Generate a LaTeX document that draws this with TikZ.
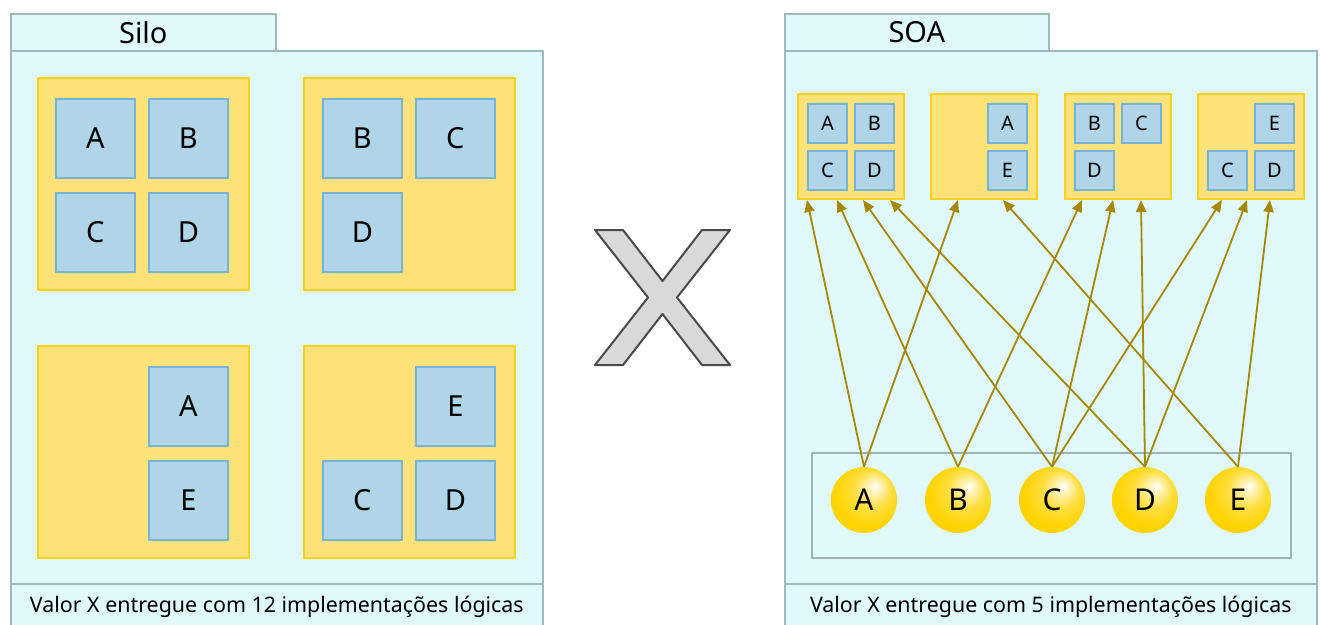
\documentclass[tikz,border=0pt]{standalone}
\usepackage{fontspec}
\setmainfont{Noto Sans}
\usetikzlibrary{arrows.meta}
\definecolor{pfill}{HTML}{DFF9FD}
\definecolor{pborder}{HTML}{9DB9BD}
\definecolor{yfill}{HTML}{FFE27A}
\definecolor{ygold}{HTML}{FFD11A}
\definecolor{bfill}{HTML}{B0D4E8}
\definecolor{bborder}{HTML}{7AB3D2}
\definecolor{arrc}{HTML}{A68800}
\definecolor{grect}{HTML}{9FB3B7}
\definecolor{ballgold}{HTML}{FFD400}
\definecolor{ballmid}{HTML}{FFE56A}
\definecolor{xfill}{HTML}{D9D9D9}
\definecolor{xdraw}{HTML}{4A4A4A}
\pgfdeclareradialshading{goldball}{\pgfpoint{9bp}{11bp}}{color(0bp)=(white); color(4bp)=(white!60!ballmid); color(14bp)=(ballmid!60!ballgold); color(26bp)=(ballgold); color(50bp)=(ballgold)}
\tikzset{
  panel/.style={draw=pborder, fill=pfill, line width=1.6pt, anchor=north west, inner sep=0pt},
  ybox/.style={draw=ygold, fill=yfill, line width=2pt, anchor=north west, inner sep=0pt},
  bigy/.style={ybox, minimum width=211pt, minimum height=212pt},
  smally/.style={ybox, minimum width=106pt, minimum height=105pt},
  bbox/.style={draw=bborder, fill=bfill, line width=1.8pt, anchor=north west, inner sep=0pt},
  bigb/.style={bbox, minimum size=79pt, font=\fontsize{29}{29}\selectfont},
  smallb/.style={bbox, minimum size=39pt, font=\fontsize{20}{20}\selectfont},
  svc/.style={circle, minimum size=66pt, inner sep=0pt, shading=goldball, font=\fontsize{30}{30}\selectfont},
  arr/.style={draw=arrc, line width=1.8pt, -{Triangle[length=12pt,width=10pt]}},
  tabtxt/.style={font=\fontsize{29}{29}\selectfont},
  captxt/.style={font=\fontsize{21.4}{21.4}\selectfont},
  xshape/.style={fill=xfill, draw=xdraw, line width=2pt, line join=round}
}
\begin{document}
\begin{tikzpicture}[x=1pt,y=-1pt]
\useasboundingbox (0,0) rectangle (1320,624);
\fill[white] (0,0) rectangle (1320,624);
% ---------------- Silo ----------------
\node[panel, minimum width=265pt, minimum height=37pt, tabtxt] (tabS) at (10,13) {Silo};
\node[panel, minimum width=532pt, minimum height=533pt] (pS) at (10,50) {};
\node[panel, minimum width=532pt, minimum height=47pt, captxt] (capS) at (10,583) {Valor X entregue com 12 implementações lógicas};
% yellow boxes
\node[bigy] (y1) at (37,77) {};
\node[bigy] (y2) at (303,77) {};
\node[bigy] (y3) at (37,345) {};
\node[bigy] (y4) at (303,345) {};
% blue boxes
\node[bigb] (y1a) at (55,98) {A};
\node[bigb] (y1b) at (148,98) {B};
\node[bigb] (y1c) at (55,192) {C};
\node[bigb] (y1d) at (148,192) {D};
\node[bigb] (y2b) at (322,98) {B};
\node[bigb] (y2c) at (415,98) {C};
\node[bigb] (y2d) at (322,192) {D};
\node[bigb] (y3a) at (148,366) {A};
\node[bigb] (y3e) at (148,460) {E};
\node[bigb] (y4e) at (415,366) {E};
\node[bigb] (y4c) at (322,460) {C};
\node[bigb] (y4d) at (415,460) {D};
% ---------------- X ----------------
\draw[xshape] (595,230) -- (623,230) -- (662.5,281) -- (702,230) -- (730,230) -- (677,297.5) -- (730,365) -- (702,365) -- (662.5,314) -- (623,365) -- (595,365) -- (648,297.5) -- cycle;
% ---------------- SOA ----------------
\node[panel, minimum width=264pt, minimum height=37pt, tabtxt] (tabA) at (784,13) {SOA};
\node[panel, minimum width=532pt, minimum height=533pt] (pA) at (784,50) {};
\node[panel, minimum width=532pt, minimum height=47pt, captxt] (capA) at (784,583) {Valor X entregue com 5 implementações lógicas};
% small yellow boxes
\node[smally] (b1) at (797,93) {};
\node[smally] (b2) at (930,93) {};
\node[smally] (b3) at (1064,93) {};
\node[smally] (b4) at (1197,93) {};
\node[smallb] (b1a) at (807,103) {A};
\node[smallb] (b1b) at (854,103) {B};
\node[smallb] (b1c) at (807,150) {C};
\node[smallb] (b1d) at (854,150) {D};
\node[smallb] (b2a) at (987,103) {A};
\node[smallb] (b2e) at (987,150) {E};
\node[smallb] (b3b) at (1074,103) {B};
\node[smallb] (b3c) at (1121,103) {C};
\node[smallb] (b3d) at (1074,150) {D};
\node[smallb] (b4e) at (1254,103) {E};
\node[smallb] (b4c) at (1207,150) {C};
\node[smallb] (b4d) at (1254,150) {D};
% services container
\node[draw=grect, line width=1.6pt, anchor=north west, minimum width=479pt, minimum height=105pt, inner sep=0pt] (svcbox) at (811,452) {};
\node[svc] (cA) at (864,500) {A};
\node[svc] (cB) at (958,500) {B};
\node[svc] (cC) at (1052,500) {C};
\node[svc] (cD) at (1145,500) {D};
\node[svc] (cE) at (1238,500) {E};
% connectors
\draw[arr] (cA.north) -- ([xshift=10pt]b1.south west);
\draw[arr] (cB.north) -- ([xshift=40pt]b1.south west);
\draw[arr] (cC.north) -- ([xshift=66pt]b1.south west);
\draw[arr] (cD.north) -- ([xshift=93pt]b1.south west);
\draw[arr] (cA.north) -- ([xshift=28pt]b2.south west);
\draw[arr] (cE.north) -- ([xshift=73pt]b2.south west);
\draw[arr] (cB.north) -- ([xshift=18pt]b3.south west);
\draw[arr] (cC.north) -- ([xshift=49pt]b3.south west);
\draw[arr] (cD.north) -- ([xshift=77pt]b3.south west);
\draw[arr] (cC.north) -- ([xshift=25pt]b4.south west);
\draw[arr] (cD.north) -- ([xshift=50pt]b4.south west);
\draw[arr] (cE.north) -- ([xshift=73pt]b4.south west);
\end{tikzpicture}
\end{document}
